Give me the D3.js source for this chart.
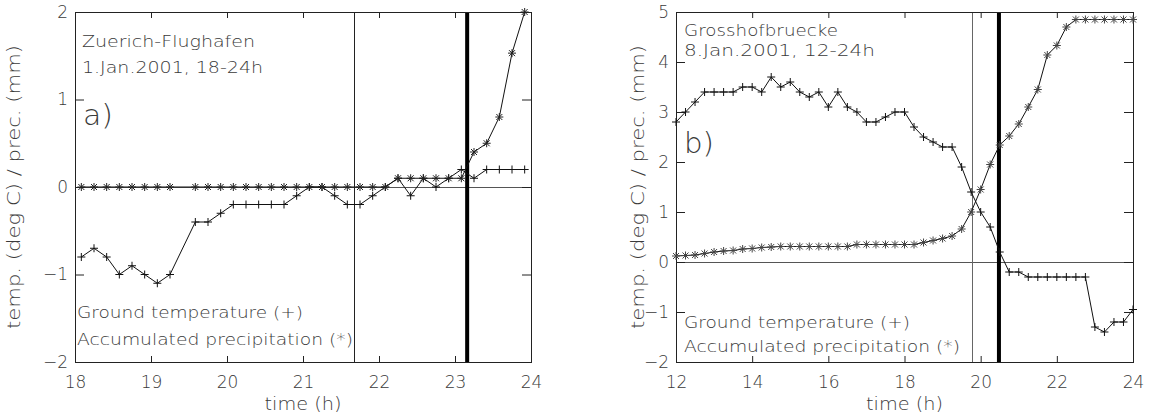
<!DOCTYPE html>
<html>
<head>
<meta charset="utf-8">
<script src="https://cdn.jsdelivr.net/npm/d3@7"></script>
<style>
body { margin: 0; background: #fff; }
svg text { font-family: "DejaVu Sans", sans-serif; font-weight: 200; fill: #3a3a3a; }
.tick text { font-size: 17px; }
</style>
</head>
<body>
<svg id="chart" width="1152" height="416"></svg>
<script>
// a) Zuerich-Flughafen, minutes after 18:00 (10 min steps, one missing record)
const timesA = [5, 15, 25, 35, 45, 55, 65, 75, 85, 95, 105, 115, 125, 135, 145, 155, 165, 175,
    185, 195, 205, 215, 225, 235, 245, 255, 265, 275, 285, 295, 305, 315, 325, 335, 345, 355];
const tempA = [-0.8, -0.7, -0.8, -1.0, -0.9, -1.0, -1.1, -1.0, null, -0.4, -0.4, -0.3, -0.2, -0.2, -0.2, -0.2, -0.2, -0.1,
    0.0, 0.0, -0.1, -0.2, -0.2, -0.1, 0.0, 0.1, -0.1, 0.1, 0.0, 0.1, 0.2, 0.1, 0.2, 0.2, 0.2, 0.2];
const precA = [0, 0, 0, 0, 0, 0, 0, 0, null, 0, 0, 0, 0, 0, 0, 0, 0, 0,
    0, 0, 0, 0, 0, 0, 0, 0.1, 0.1, 0.1, 0.1, 0.1, 0.1, 0.4, 0.5, 0.8, 1.53, 2.0];
const thinA = [21.67];
const thickA = [23.16];
const xTicksA = [18, 19, 20, 21, 22, 23, 24];
const yTicksA = [-2, -1, 0, 1, 2];

// b) Grosshofbruecke, minutes after 12:00 (15 min steps)
const timesB = [0, 15, 30, 45, 60, 75, 90, 105, 120, 135, 150, 165, 180, 195, 210, 225, 240,
    255, 270, 285, 300, 315, 330, 345, 360, 375, 390, 405, 420, 435, 450, 465, 480,
    495, 510, 525, 540, 555, 570, 585, 600, 615, 630, 645, 660, 675, 690, 705, 720];
const tempB = [2.8, 3.0, 3.2, 3.4, 3.4, 3.4, 3.4, 3.5, 3.5, 3.4, 3.7, 3.5, 3.6, 3.4, 3.3, 3.4, 3.1,
    3.4, 3.1, 3.0, 2.8, 2.8, 2.9, 3.0, 3.0, 2.7, 2.5, 2.4, 2.3, 2.3, 1.9, 1.4, 1.0,
    0.7, 0.2, -0.2, -0.2, -0.3, -0.3, -0.3, -0.3, -0.3, -0.3, -0.3, -1.3, -1.4, -1.2, -1.2, -0.95];
const precB = [0.12, 0.13, 0.14, 0.17, 0.20, 0.22, 0.23, 0.26, 0.27, 0.29, 0.30, 0.31, 0.31, 0.31, 0.31, 0.31, 0.31,
    0.31, 0.31, 0.35, 0.35, 0.35, 0.35, 0.35, 0.35, 0.35, 0.39, 0.43, 0.47, 0.52, 0.66, 1.0, 1.45,
    1.95, 2.34, 2.52, 2.76, 3.1, 3.45, 4.14, 4.33, 4.7, 4.85, 4.85, 4.85, 4.85, 4.85, 4.85, 4.85];
const thinB = [19.77];
const thickB = [20.48];
const xTicksB = [12, 14, 16, 18, 20, 22, 24];
const yTicksB = [-2, -1, 0, 1, 2, 3, 4, 5];

const svg = d3.select('#chart');

const plusPath = 'M-4,0H4M0,-4V4';
const starPath = 'M-4,0H4M0,-4V4M-3,-3L3,3M-3,3L3,-3';
const fmt = d => d < 0 ? '\u2212' + Math.abs(d) : String(d);

function addText(g, s, x, y, size, len) {
    const t = g.append('text')
        .attr('x', x)
        .attr('y', y)
        .style('font-size', size + 'px')
        .text(s);
    if (len) t.attr('textLength', len).attr('lengthAdjust', 'spacingAndGlyphs');
    return t;
}

function drawPanel(p) {
    const x = d3.scaleLinear().domain(p.xDomain).range([p.left, p.right]);
    const y = d3.scaleLinear().domain(p.yDomain).range([p.bottom, p.top]);
    const g = svg.append('g');

    const pts = (series) => p.minutes
        .map((m, i) => ({ t: p.start + m / 60, v: series[i] }))
        .filter(d => d.v !== null);
    const temp = pts(p.temp);
    const prec = pts(p.prec);

    // zero line
    g.append('line')
        .attr('x1', p.left).attr('x2', p.right)
        .attr('y1', Math.round(y(0)) + 0.5).attr('y2', Math.round(y(0)) + 0.5)
        .attr('stroke', '#555');

    // event lines
    g.selectAll('line.thin')
        .data(p.thin)
        .join('line')
        .attr('class', 'thin')
        .attr('x1', d => Math.round(x(d)) + 0.5).attr('x2', d => Math.round(x(d)) + 0.5)
        .attr('y1', p.top).attr('y2', p.bottom)
        .attr('stroke', p.thinColor);

    g.selectAll('line.thick')
        .data(p.thick)
        .join('line')
        .attr('class', 'thick')
        .attr('x1', d => x(d)).attr('x2', d => x(d))
        .attr('y1', p.top).attr('y2', p.bottom)
        .attr('stroke', '#000')
        .attr('stroke-width', 4);

    // axes, ticks pointing inwards
    const bottom = g.append('g')
        .attr('transform', `translate(0,${p.bottom})`)
        .call(d3.axisBottom(x).tickValues(p.xTicks).tickSize(-6).tickPadding(14).tickFormat(fmt));
    const top = g.append('g')
        .attr('transform', `translate(0,${p.top})`)
        .call(d3.axisTop(x).tickValues(p.xTicks).tickSize(-6).tickFormat(''));
    const left = g.append('g')
        .attr('transform', `translate(${p.left},0)`)
        .call(d3.axisLeft(y).tickValues(p.yTicks).tickSize(-9).tickPadding(7).tickFormat(fmt));
    const right = g.append('g')
        .attr('transform', `translate(${p.right},0)`)
        .call(d3.axisRight(y).tickValues(p.yTicks).tickSize(-9).tickFormat(''));
    [bottom, top, left, right].forEach(a => {
        a.select('.domain').remove();
        a.attr('font-family', null).attr('font-size', null);
        a.selectAll('.tick line').attr('stroke', '#222');
    });

    g.append('rect')
        .attr('x', p.left + 0.5).attr('y', p.top + 0.5)
        .attr('width', p.right - p.left).attr('height', p.bottom - p.top)
        .attr('fill', 'none')
        .attr('stroke', '#222');

    // data
    const line = d3.line().x(d => x(d.t)).y(d => y(d.v));
    g.append('path').datum(temp).attr('d', line).attr('fill', 'none').attr('stroke', '#111');
    g.append('path').datum(prec).attr('d', line).attr('fill', 'none').attr('stroke', '#111');

    g.selectAll('path.plus')
        .data(temp)
        .join('path')
        .attr('class', 'plus')
        .attr('transform', d => `translate(${x(d.t)},${y(d.v)})`)
        .attr('d', plusPath)
        .attr('stroke', '#111');

    g.selectAll('path.star')
        .data(prec)
        .join('path')
        .attr('class', 'star')
        .attr('transform', d => `translate(${x(d.t)},${y(d.v)})`)
        .attr('d', starPath)
        .attr('stroke', p.starColor);

    // texts
    p.title.forEach((s, i) => addText(g, s, p.left + p.titleDx, p.titleY[i], 15, p.titleLen[i]));
    addText(g, p.tag, p.left + 8, p.tagY, 28, 30);
    addText(g, 'Ground temperature (+)', p.left + p.legendDx, p.legendY[0], 16, 226);
    addText(g, 'Accumulated precipitation (*)', p.left + p.legendDx, p.legendY[1], 16, 276);

    addText(g, 'time (h)', (p.left + p.right) / 2, 410, 17, 77)
        .attr('text-anchor', 'middle');

    g.append('text')
        .attr('transform', `translate(${p.yLabelX},${(p.top + p.bottom) / 2}) rotate(-90)`)
        .attr('text-anchor', 'middle')
        .attr('textLength', 284)
        .attr('lengthAdjust', 'spacingAndGlyphs')
        .style('font-size', '17px')
        .text('temp. (deg C) / prec. (mm)');
}

drawPanel({
    left: 75, right: 531, top: 12, bottom: 362,
    xDomain: [18, 24], yDomain: [-2, 2],
    xTicks: xTicksA, yTicks: yTicksA,
    start: 18, minutes: timesA, temp: tempA, prec: precA,
    thin: thinA, thick: thickA, thinColor: '#222', starColor: '#222',
    title: ['Zuerich-Flughafen', '1.Jan.2001, 18-24h'],
    titleDx: 7, titleY: [47, 73], titleLen: [173, 181],
    tag: 'a)', tagY: 125,
    legendDx: 2, legendY: [318, 345],
    yLabelX: 20
});

drawPanel({
    left: 676, right: 1133, top: 12, bottom: 362,
    xDomain: [12, 24], yDomain: [-2, 5],
    xTicks: xTicksB, yTicks: yTicksB,
    start: 12, minutes: timesB, temp: tempB, prec: precB,
    thin: thinB, thick: thickB, thinColor: '#666', starColor: '#444',
    title: ['Grosshofbruecke', '8.Jan.2001, 12-24h'],
    titleDx: 8, titleY: [36, 56], titleLen: [154, 191],
    tag: 'b)', tagY: 153,
    legendDx: 8, legendY: [328, 352],
    yLabelX: 644
});
</script>
</body>
</html>
